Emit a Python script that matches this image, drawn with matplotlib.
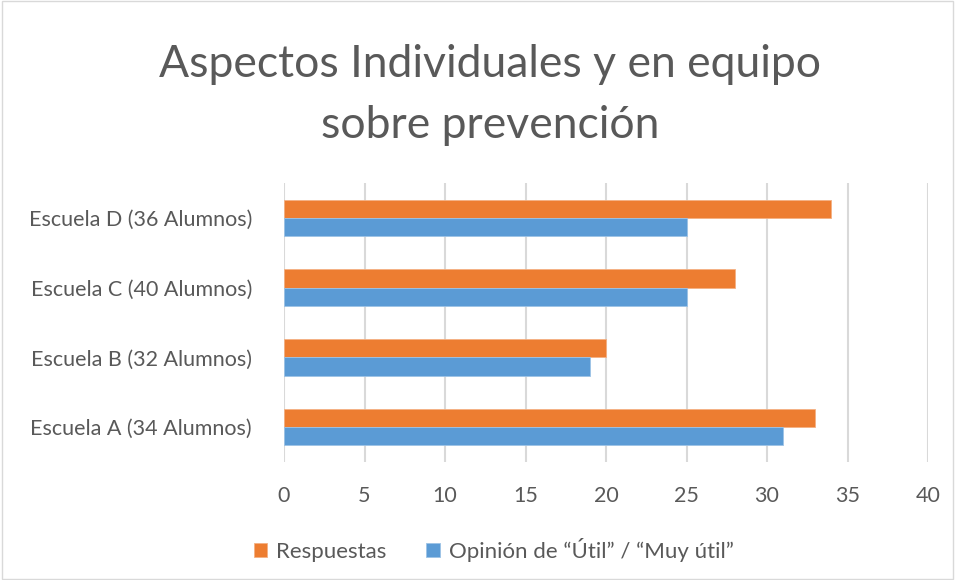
import numpy as np
import matplotlib.pyplot as plt
from matplotlib.patches import Rectangle

# =============================================================================
# Data
# =============================================================================
escuelas = ['Escuela A (34 Alumnos)', 'Escuela B (32 Alumnos)',
            'Escuela C (40 Alumnos)', 'Escuela D (36 Alumnos)']
respuestas = [33, 20, 28, 34]
opinion_util = [31, 19, 25, 25]
xticks = [0, 5, 10, 15, 20, 25, 30, 35, 40]

ORANGE = '#ED7D31'
BLUE = '#5B9BD5'
TEXT = '#595959'

plt.rcParams['font.family'] = ['Lato', 'DejaVu Sans']

fig = plt.figure(figsize=(9.55, 5.8), dpi=100)
ax = fig.add_axes([284/955, 1 - 462/580, (928 - 284)/955, (462 - 183)/580])

y = np.arange(len(escuelas))
h = 0.26
ax.barh(y + h/2, respuestas, height=h, color=ORANGE, edgecolor='#F4B183',
        linewidth=0.6, label='Respuestas', zorder=3)
ax.barh(y - h/2, opinion_util, height=h, color=BLUE, edgecolor='#9DC3E6',
        linewidth=0.6, label='Opinión de “Útil” / “Muy útil”', zorder=3)

ax.set_xlim(0, 40)
ax.set_ylim(-0.5, 3.5)
ax.set_xticks(xticks)
ax.set_xticklabels([str(t) for t in xticks], fontsize=15.5, color=TEXT)
ax.set_yticks(y)
ax.set_yticklabels(escuelas, fontsize=15.5, color=TEXT)
ax.tick_params(length=0, pad=17, axis='x')
ax.tick_params(length=0, pad=23, axis='y')
ax.grid(axis='x', color='#D9D9D9', linewidth=1.5, zorder=0)
for s in ax.spines.values():
    s.set_visible(False)

fig.text(0.513, 1 - 95/580, 'Aspectos Individuales y en equipo\nsobre prevención',
         ha='center', va='center', fontsize=32, color=TEXT, linespacing=1.6)

handles, labels = ax.get_legend_handles_labels()
fig.legend(handles, labels, loc='center', bbox_to_anchor=(0.517, 1 - 550/580),
           ncol=2, frameon=False, fontsize=16, labelcolor=TEXT,
           handlelength=0.6, handleheight=0.6, handletextpad=0.4,
           columnspacing=1.8)

# light chart border
fig.patches.append(Rectangle((0.002, 0.002), 0.996, 0.996, transform=fig.transFigure,
                             fill=False, edgecolor='#D9D9D9', linewidth=1))

fig.savefig('out.png', dpi=100)
